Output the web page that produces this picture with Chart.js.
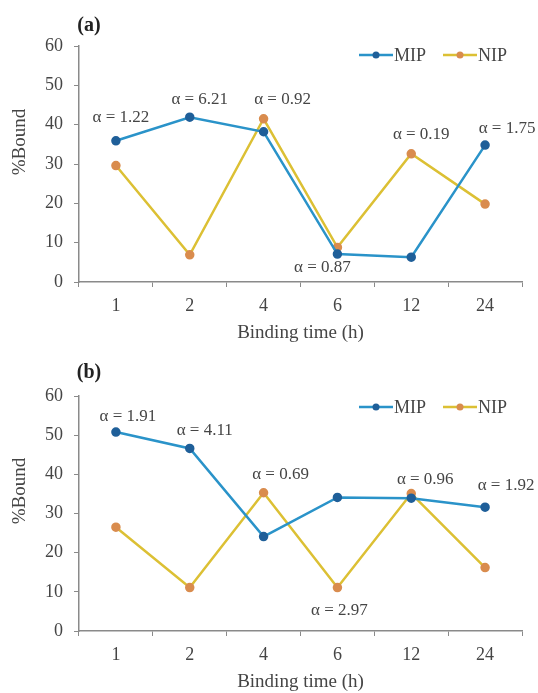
<!DOCTYPE html>
<html>
<head>
<meta charset="utf-8">
<script src="https://cdn.jsdelivr.net/npm/chart.js@4.4.0/dist/chart.umd.min.js"></script>
<style>
  html, body { margin: 0; padding: 0; background: #fff; }
  canvas { display: block; }
</style>
</head>
<body>
<canvas id="chartA" width="538" height="346"></canvas>
<canvas id="chartB" width="538" height="347"></canvas>
<script>
// binding time categories (h)
const times = ['1', '2', '4', '6', '12', '24'];

// panel (a)
const mipA = [35.9, 41.9, 38.2, 7.1, 6.3, 34.8];
const nipA = [29.6, 6.9, 41.5, 8.8, 32.6, 19.8];
const alphaA = ['1.22', '6.21', '0.92', '0.87', '0.19', '1.75'];

// panel (b)
const mipB = [50.8, 46.6, 24.1, 34.1, 33.9, 31.6];
const nipB = [26.5, 11.1, 35.3, 11.1, 35.1, 16.2];
const alphaB = ['1.91', '4.11', '0.69', '2.97', '0.96', '1.92'];

const serif = '"Liberation Serif", "Times New Roman", serif';
const textColor = '#454545';
const axisColor = '#8a8a8a';

// draws alpha labels, panel letter, y title and the legend
const panelText = {
    id: 'panelText',
    afterDatasetsDraw(chart, args, opts) {
        const ctx = chart.ctx;
        const xs = chart.scales.x, ys = chart.scales.y;
        const sets = chart.data.datasets;
        ctx.save();
        ctx.textAlign = 'center';
        ctx.textBaseline = 'middle';

        ctx.fillStyle = textColor;
        ctx.font = '17px ' + serif;
        opts.alphas.forEach((a, i) => {
            const off = opts.offsets[i];
            const vals = sets.map(d => d.data[i]);
            const v = off[1] > 0 ? Math.min(...vals) : Math.max(...vals);
            ctx.fillText('\u03b1 = ' + a, xs.getPixelForValue(i) + off[0], ys.getPixelForValue(v) + off[1]);
        });

        ctx.fillStyle = '#222';
        ctx.font = 'bold 20px ' + serif;
        ctx.fillText(opts.panel, 89, opts.panelY);

        ctx.save();
        ctx.translate(20, opts.yTitleY);
        ctx.rotate(-Math.PI / 2);
        ctx.fillStyle = textColor;
        ctx.font = '19px ' + serif;
        ctx.fillText('%Bound', 0, 0);
        ctx.restore();

        // legend
        ctx.font = '18px ' + serif;
        ctx.textAlign = 'left';
        let lx = 359;
        sets.forEach(d => {
            ctx.strokeStyle = d.borderColor;
            ctx.lineWidth = 2.5;
            ctx.beginPath();
            ctx.moveTo(lx, opts.legendY);
            ctx.lineTo(lx + 34, opts.legendY);
            ctx.stroke();
            ctx.fillStyle = d.pointBackgroundColor;
            ctx.beginPath();
            ctx.arc(lx + 17, opts.legendY, 3.5, 0, Math.PI * 2);
            ctx.fill();
            ctx.fillStyle = textColor;
            ctx.fillText(d.label, lx + 35, opts.legendY + 1);
            lx += 84;
        });
        ctx.restore();
    }
};

function makeChart(id, mip, nip, alphas, cfg) {
    return new Chart(document.getElementById(id), {
        type: 'line',
        data: {
            labels: times,
            datasets: [{
                label: 'MIP',
                data: mip,
                borderColor: '#2a93c9',
                borderWidth: 2.5,
                pointBackgroundColor: '#1f5f99',
                pointBorderColor: '#1f5f99',
                pointRadius: 3.5,
                tension: 0
            }, {
                label: 'NIP',
                data: nip,
                borderColor: '#dcc034',
                borderWidth: 2.5,
                pointBackgroundColor: '#d98c4e',
                pointBorderColor: '#d98c4e',
                pointRadius: 3.5,
                tension: 0
            }]
        },
        options: {
            responsive: false,
            animation: false,
            devicePixelRatio: 1,
            layout: { padding: { top: cfg.top, right: 16, bottom: 0, left: 0 } },
            plugins: {
                legend: { display: false },
                tooltip: { enabled: false },
                panelText: {
                    alphas: alphas,
                    offsets: cfg.offsets,
                    panel: cfg.panel,
                    panelY: cfg.panelY,
                    yTitleY: cfg.yTitleY,
                    legendY: cfg.legendY
                }
            },
            scales: {
                x: {
                    offset: true,
                    grid: { drawOnChartArea: false, tickLength: 5, color: axisColor, offset: true },
                    border: { color: axisColor, width: 1.5 },
                    ticks: { color: textColor, font: { family: serif, size: 18 }, padding: 8 },
                    title: {
                        display: true,
                        text: 'Binding time (h)',
                        color: textColor,
                        font: { family: serif, size: 19 },
                        padding: { top: 0, bottom: cfg.titlePad }
                    },
                    afterFit(s) { s.height = cfg.xHeight; }
                },
                y: {
                    min: 0,
                    max: 60,
                    grid: { drawOnChartArea: false, tickLength: 5, color: axisColor },
                    border: { color: axisColor, width: 1.5 },
                    ticks: { stepSize: 10, color: textColor, font: { family: serif, size: 18 }, padding: 11 },
                    afterFit(s) { s.width = 79; }
                }
            }
        },
        plugins: [panelText]
    });
}

makeChart('chartA', mipA, nipA, alphaA, {
    top: 46, xHeight: 64, titlePad: 2,
    panel: '(a)', panelY: 26, yTitleY: 142, legendY: 55,
    offsets: [[5, -23], [10, -18], [19, -19], [-15, 13], [10, -19], [22, -17]]
});

makeChart('chartB', mipB, nipB, alphaB, {
    top: 50, xHeight: 62, titlePad: 0,
    panel: '(b)', panelY: 27, yTitleY: 145, legendY: 61,
    offsets: [[12, -16], [15, -18], [17, -18], [2, 23], [14, -14], [21, -22]]
});
</script>
</body>
</html>
